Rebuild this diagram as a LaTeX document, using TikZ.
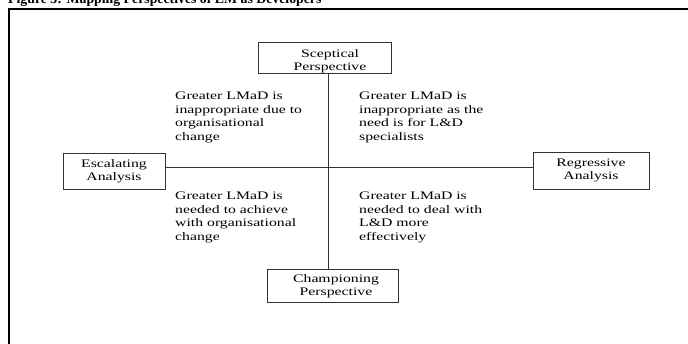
\documentclass[tikz,border=0pt]{standalone}
\usepackage{fontspec}
\setmainfont{Liberation Serif}[FakeStretch=1.37]
\newfontfamily\titlefont{Liberation Serif}
\begin{document}
\begin{tikzpicture}[x=1pt,y=-1pt,
  boxnode/.style={draw=black!80, line width=0.8pt, inner sep=0pt, align=center,
    font=\fontsize{11.5}{13}\selectfont, text=black},
  quad/.style={anchor=north west, inner sep=0pt, align=left,
    font=\fontsize{11.5}{13.5}\selectfont, text=black},
  axis/.style={draw=black!80, line width=0.8pt}]
\useasboundingbox (0,0) rectangle (688,343);
\clip (0,0) rectangle (688,343);
\fill[white] (0,0) rectangle (688,343);
% title (cut by the top edge)
\node[anchor=base west, inner sep=0pt, font=\titlefont\bfseries\fontsize{13.8}{16}\selectfont] (title) at (8,3.5) {Figure 3: Mapping Perspectives of LM as Developers};
% frame
\draw[line width=2pt] (700,9) -| (9,350);
% boxes
\node[boxnode, minimum width=133pt, minimum height=30pt] (scep) at (324.5,58)
  {\rule{0pt}{15pt}\hspace*{11pt}Sceptical\\\hspace*{11pt}Perspective};
\node[boxnode, minimum width=131pt, minimum height=33pt] (champ) at (332.5,285.5)
  {\rule{0pt}{10pt}\hspace*{7pt}Championing\\\hspace*{7pt}Perspective};
\node[boxnode, minimum width=102pt, minimum height=36pt] (esc) at (114,171) {Escalating\\Analysis};
\node[boxnode, minimum width=116pt, minimum height=37pt] (reg) at (591,170.5) {Regressive\\Analysis};
% axes
\coordinate (vx) at (328,0);
\coordinate (hy) at (0,167);
\draw[axis] (scep.south -| vx) -- (champ.north -| vx);
\draw[axis] (esc.east |- hy) -- (reg.west |- hy);
% quadrant texts
\node[quad] (ul) at (175,92) {Greater LMaD is\\inappropriate due to\\organisational\\change};
\node[quad] (ur) at (359,92) {Greater LMaD is\\inappropriate as the\\need is for L\&D\\specialists};
\node[quad] (ll) at (175,192) {Greater LMaD is\\needed to achieve\\with organisational\\change};
\node[quad] (lr) at (359,192) {Greater LMaD is\\needed to deal with\\L\&D more\\effectively};
\end{tikzpicture}
\end{document}
